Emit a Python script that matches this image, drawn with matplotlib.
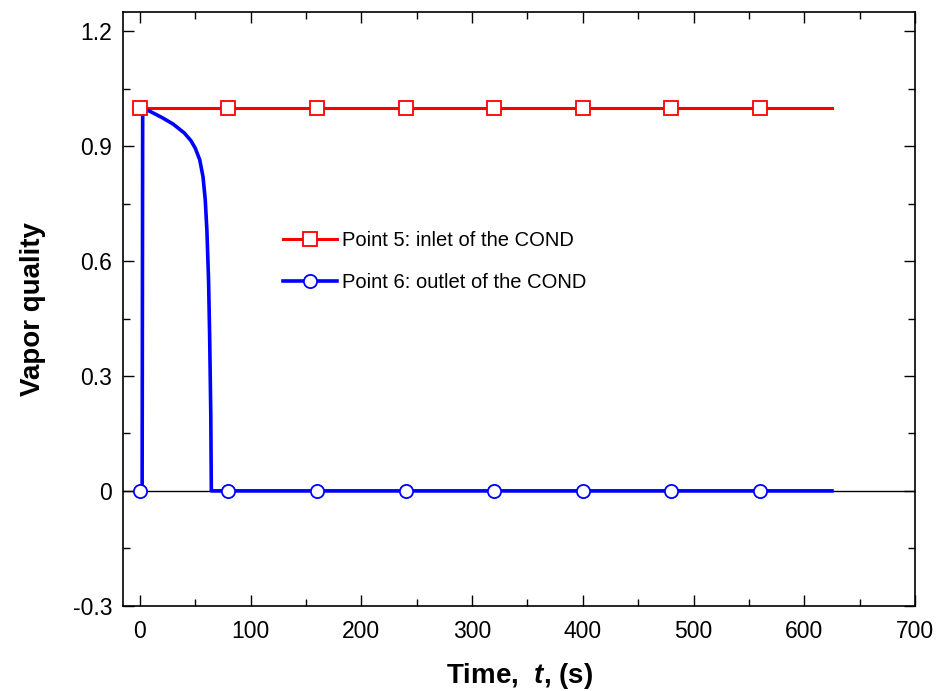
import matplotlib
matplotlib.use("Agg")
import matplotlib.pyplot as plt
from matplotlib.ticker import MultipleLocator

plt.rcParams['font.family'] = ['Liberation Sans', 'DejaVu Sans']
plt.rcParams['mathtext.fontset'] = 'custom'
plt.rcParams['mathtext.rm'] = 'Liberation Sans'
plt.rcParams['mathtext.it'] = 'Liberation Sans:italic'
plt.rcParams['mathtext.bf'] = 'Liberation Sans:bold'
plt.rcParams['mathtext.bfit'] = 'Liberation Sans:italic:bold'

# Point 5 (inlet): constant quality
t5 = [0, 625]
x5 = [1.0, 1.0]
t5_markers = [0, 80, 160, 240, 320, 400, 480, 560]
x5_markers = [1.0] * 8

# Point 6 (outlet)
t6 = [0, 2.0, 2.5, 10, 20, 30, 40, 46, 50, 54, 57, 59, 60.5, 62, 63, 64, 64.5, 625]
x6 = [0, 0, 1.0, 0.99, 0.975, 0.958, 0.935, 0.915, 0.895, 0.865, 0.82, 0.76, 0.68, 0.55, 0.40, 0.20, 0.0, 0.0]
t6_markers = [0, 80, 160, 240, 320, 400, 480, 560]
x6_markers = [0.0] * 8

xticks = [0, 100, 200, 300, 400, 500, 600, 700]
yticks = [-0.3, 0, 0.3, 0.6, 0.9, 1.2]
ytick_labels = ['-0.3', '0', '0.3', '0.6', '0.9', '1.2']

fig = plt.figure(figsize=(9.37, 6.91), dpi=100)
ax = fig.add_axes([0.1316, 0.1234, 0.8449, 0.8588])

ax.axhline(0, color='black', lw=1.0, zorder=1)

ax.plot(t5, x5, color='#ff0000', lw=2.2, zorder=3)
ax.plot(t5_markers, x5_markers, ls='none', marker='s', ms=10, mfc='white',
        mec='#ff0000', mew=1.3, zorder=4)
ax.plot(t6, x6, color='#0000ff', lw=2.6, zorder=3)
ax.plot(t6_markers, x6_markers, ls='none', marker='o', ms=9.5, mfc='white',
        mec='#0000ff', mew=1.3, zorder=4)

# legend proxies
h5, = ax.plot([], [], color='#ff0000', lw=2.2, marker='s', ms=10, mfc='white', mec='#ff0000', mew=1.3)
h6, = ax.plot([], [], color='#0000ff', lw=2.6, marker='o', ms=9.5, mfc='white', mec='#0000ff', mew=1.3)
ax.legend([h5, h6], ['Point 5: inlet of the COND', 'Point 6: outlet of the COND'],
          loc='upper left', bbox_to_anchor=(0.2017, 0.631), frameon=False,
          fontsize=14.5, handlelength=2.7, handletextpad=0.25, labelspacing=1.15,
          borderpad=0, borderaxespad=0)

ax.set_xlim(-15, 700)
ax.set_ylim(-0.3, 1.25)
ax.set_xticks(xticks)
ax.set_yticks(yticks)
ax.set_yticklabels(ytick_labels)
ax.xaxis.set_minor_locator(MultipleLocator(50))
ax.yaxis.set_minor_locator(MultipleLocator(0.15))
ax.tick_params(which='both', direction='in', top=True, right=True, labelsize=16.5, color='black')
ax.tick_params(which='major', length=8, width=1.0)
ax.tick_params(axis='x', which='major', pad=10)
ax.tick_params(axis='y', which='major', pad=8)
ax.tick_params(which='minor', length=5, width=1.0)
for s in ax.spines.values():
    s.set_linewidth(1.2)
    s.set_color('black')

ax.set_xlabel('Time,  $\\boldsymbol{t}$, (s)', fontsize=20, fontweight='bold', labelpad=13)
ax.set_ylabel('Vapor quality', fontsize=20, fontweight='bold', labelpad=19)

fig.savefig('out.png', dpi=100)
